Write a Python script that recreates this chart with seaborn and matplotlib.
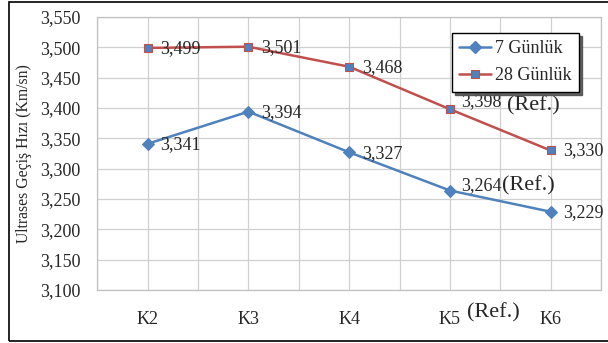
import numpy as np
import pandas as pd
import seaborn as sns
import matplotlib.pyplot as plt
from matplotlib.patches import Rectangle
from matplotlib.lines import Line2D
from matplotlib.ticker import FuncFormatter

categories = ["K2", "K3", "K4", "K5", "K6"]
gun7 = [3.341, 3.394, 3.327, 3.264, 3.229]
gun28 = [3.499, 3.501, 3.468, 3.398, 3.330]
series_names = ["7 Günlük", "28 Günlük"]
y_ticks = [3.100, 3.150, 3.200, 3.250, 3.300, 3.350, 3.400, 3.450, 3.500, 3.550]

sns.set_style("white")
plt.rcParams["font.family"] = ["Liberation Serif", "DejaVu Serif"]

df = pd.DataFrame({
    "pos": list(range(len(categories))) * 2,
    "hiz": gun7 + gun28,
    "seri": [series_names[0]] * len(gun7) + [series_names[1]] * len(gun28),
})

blue = "#4F81BD"
red = "#C0504D"
FS = 13
REF_FS = 16

fig = plt.figure(figsize=(6.08, 3.43), dpi=100)
ax = fig.add_axes([0.16, 0.1545, 0.8285, 0.796])

sns.lineplot(data=df, x="pos", y="hiz", hue="seri", style="seri",
             palette=[blue, red], markers=["D", "s"], dashes=False,
             linewidth=1.8, ax=ax, legend=False)
lines = ax.get_lines()
lines[0].set_markersize(6.5)
lines[0].set_markerfacecolor(blue)
lines[0].set_markeredgecolor(blue)
lines[1].set_markersize(6)
lines[1].set_markerfacecolor(blue)
lines[1].set_markeredgecolor(red)
lines[1].set_markeredgewidth(0.8)

ax.set_xlim(-0.5, len(categories) - 0.5)
ax.set_ylim(y_ticks[0], y_ticks[-1])
ax.set_yticks(y_ticks)
ax.yaxis.set_major_formatter(FuncFormatter(lambda v, p: f"{v:.3f}".replace(".", ",")))
ax.set_xticks(range(len(categories)))
ax.set_xticklabels(categories)
ax.set_xticks(np.arange(-0.5, len(categories), 1), minor=True)
ax.grid(True, which="both", color="#D0D0D0", linewidth=0.9)
ax.set_axisbelow(True)
for s in ax.spines.values():
    s.set_color("#C0C0C0")
    s.set_linewidth(0.9)
ax.tick_params(axis="both", which="both", length=0, labelsize=FS)
ax.tick_params(axis="x", pad=15)
ax.tick_params(axis="y", pad=12)
ax.set_xlabel("")
ax.set_ylabel("Ultrases Geçiş Hızı (Km/sn)", fontsize=11.3, labelpad=6)


def fmt(v):
    return f"{v:.3f}".replace(".", ",")


# value labels
for i, v in enumerate(gun7):
    if categories[i] == "K5":
        ax.annotate(fmt(v), (i, v), xytext=(8, 3.6), textcoords="offset points",
                    fontsize=FS, va="center", ha="left")
        ax.annotate("(Ref.)", (i, v), xytext=(37.5, 3.6), textcoords="offset points",
                    fontsize=REF_FS, va="center", ha="left")
    else:
        ax.annotate(fmt(v), (i, v), xytext=(9, -0.7), textcoords="offset points",
                    fontsize=FS, va="center", ha="left")
for i, v in enumerate(gun28):
    if categories[i] == "K5":
        ax.annotate(fmt(v), (i, v), xytext=(8, 5.3), textcoords="offset points",
                    fontsize=FS, va="center", ha="left")
        ax.annotate("(Ref.)", (i, v), xytext=(41, 2.5), textcoords="offset points",
                    fontsize=REF_FS, va="center", ha="left")
    else:
        ax.annotate(fmt(v), (i, v), xytext=(9, -0.3), textcoords="offset points",
                    fontsize=FS, va="center", ha="left")

# reference marker next to K5 tick label
ax.annotate("(Ref.)", (3, y_ticks[0]), xytext=(12, -16.5), textcoords="offset points",
            fontsize=REF_FS, va="center", ha="left", annotation_clip=False)

# legend
handles = [
    Line2D([], [], color=blue, marker="D", markersize=6.5, linewidth=1.8,
           markerfacecolor=blue, markeredgecolor=blue),
    Line2D([], [], color=red, marker="s", markersize=6, linewidth=1.8,
           markerfacecolor=blue, markeredgecolor=red, markeredgewidth=0.8),
]
leg = ax.legend(handles, series_names, loc="upper right",
                bbox_to_anchor=(0.956, 0.942), fontsize=FS, frameon=True,
                fancybox=False, shadow={"color": "#505050", "alpha": 0.9},
                edgecolor="black", framealpha=1,
                handlelength=1.75, borderpad=0.42, labelspacing=0.55,
                handletextpad=0.2, borderaxespad=0)
leg.get_frame().set_linewidth(1.0)
leg.set_zorder(10)

# outer chart border
fig.patches.append(Rectangle((9 / 608, 2 / 343), 1.2, 339 / 343,
                             transform=fig.transFigure, fill=False,
                             edgecolor="black", linewidth=1.2))

fig.savefig("out.png", dpi=100)
